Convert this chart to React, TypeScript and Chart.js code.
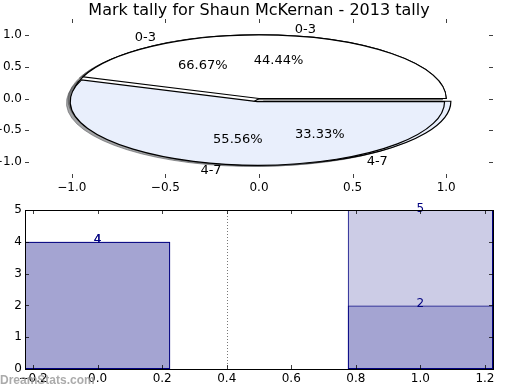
import React, { useEffect, useRef } from 'react';
import { Chart, registerables } from 'chart.js';

Chart.register(...registerables);

// ---------- data ----------
const TITLE = 'Mark tally for Shaun McKernan - 2013 tally';
const binLabels = ['0-3', '4-7'];
const binPositions = [0, 1];
const seriesA = [4, 5]; // light bars, pie drawn on top (44.44% / 55.56%)
const seriesB = [4, 2]; // overlapping bars, pie underneath (66.67% / 33.33%)
const pieXTicks = [-1.0, -0.5, 0.0, 0.5, 1.0];
const pieYTicks = [-1.0, -0.5, 0.0, 0.5, 1.0];
const barXTicks = [-0.2, 0.0, 0.2, 0.4, 0.6, 0.8, 1.0, 1.2];
const barYTicks = [0, 1, 2, 3, 4, 5];
const dividerX = 0.4;
const WATERMARK = 'DreamStats.com';

// ---------- style ----------
const FONT = '"DejaVu Sans", sans-serif';
const pieColors = ['#ffffff', '#e9effc'];
const pieExplode = [0, 0.05];
const pieOrder = [seriesB, seriesA];
const BAR_WIDTH = 0.45;
const X_TICK_STEP = 0.2;
const NAVY = '#000080';

const fmt1 = (v: number) => v.toFixed(1).replace('-', '\u2212');

function shadowOf(hex: string) {
  const r = parseInt(hex.slice(1, 3), 16) * 0.3;
  const g = parseInt(hex.slice(3, 5), 16) * 0.3;
  const b = parseInt(hex.slice(5, 7), 16) * 0.3;
  return `rgba(${r},${g},${b},0.5)`;
}

const insideTicks = {
  id: 'insideTicks',
  afterDraw(chart: any) {
    const { ctx, chartArea: a, scales } = chart;
    const L = 4;
    ctx.save();
    ctx.strokeStyle = 'rgba(0,0,0,0.75)';
    ctx.lineWidth = 1;
    ctx.beginPath();
    for (const t of scales.x.ticks) {
      const p = Math.round(scales.x.getPixelForValue(t.value)) + 0.5;
      ctx.moveTo(p, a.top); ctx.lineTo(p, a.top + L);
      ctx.moveTo(p, a.bottom); ctx.lineTo(p, a.bottom - L);
    }
    for (const t of scales.y.ticks) {
      const p = Math.round(scales.y.getPixelForValue(t.value)) + 0.5;
      ctx.moveTo(a.left, p); ctx.lineTo(a.left + L, p);
      ctx.moveTo(a.right, p); ctx.lineTo(a.right - L, p);
    }
    ctx.stroke();
    ctx.restore();
  },
};

const piePlugin = {
  id: 'ellipsePies',
  afterDatasetsDraw(chart: any) {
    const { ctx, scales } = chart;
    const x = scales.x, y = scales.y;
    const cx0 = x.getPixelForValue(0), cy0 = y.getPixelForValue(0);
    const rx = x.getPixelForValue(1) - cx0;
    const ry = cy0 - y.getPixelForValue(1);
    const wedges: any[] = [];
    for (const values of pieOrder) {
      const total = values.reduce((s, v) => s + v, 0);
      let start = 0;
      values.forEach((v, i) => {
        const frac = v / total;
        const t1 = start, t2 = start + frac * 2 * Math.PI;
        start = t2;
        const mid = (t1 + t2) / 2;
        const ex = pieExplode[i];
        wedges.push({
          ox: ex * Math.cos(mid), oy: ex * Math.sin(mid),
          t1, t2, mid, frac, color: pieColors[i], label: binLabels[i],
        });
      });
    }
    const path = (w: any, dx: number, dy: number) => {
      const cx = x.getPixelForValue(w.ox + dx), cy = y.getPixelForValue(w.oy + dy);
      ctx.beginPath();
      ctx.moveTo(cx, cy);
      ctx.ellipse(cx, cy, rx, ry, 0, -w.t1, -w.t2, true);
      ctx.closePath();
    };
    ctx.save();
    for (const w of wedges) {
      path(w, -0.02, -0.02);
      ctx.fillStyle = shadowOf(w.color);
      ctx.strokeStyle = shadowOf(w.color);
      ctx.lineWidth = 1;
      ctx.fill();
      ctx.stroke();
    }
    for (const w of wedges) {
      path(w, 0, 0);
      ctx.fillStyle = w.color;
      ctx.strokeStyle = '#000';
      ctx.lineWidth = 1.2;
      ctx.fill();
      ctx.stroke();
    }
    ctx.fillStyle = '#000';
    ctx.font = `13px ${FONT}`;
    ctx.textBaseline = 'middle';
    for (const w of wedges) {
      const lx = w.ox + 1.1 * Math.cos(w.mid);
      const ly = w.oy + 1.1 * Math.sin(w.mid);
      ctx.textAlign = lx > 0 ? 'left' : 'right';
      ctx.fillText(w.label, x.getPixelForValue(lx), y.getPixelForValue(ly));
      const px = w.ox + 0.6 * Math.cos(w.mid);
      const py = w.oy + 0.6 * Math.sin(w.mid);
      ctx.textAlign = 'center';
      ctx.fillText((w.frac * 100).toFixed(2) + '%', x.getPixelForValue(px), y.getPixelForValue(py));
    }
    ctx.restore();
  },
};

const titlePlugin = {
  id: 'mplTitle',
  afterDraw(chart: any) {
    const { ctx, chartArea: a } = chart;
    ctx.save();
    ctx.font = `16px ${FONT}`;
    ctx.fillStyle = '#000';
    ctx.textAlign = 'center';
    ctx.textBaseline = 'alphabetic';
    ctx.fillText(TITLE, (a.left + a.right) / 2, 15);
    ctx.restore();
  },
};

const barDecor = {
  id: 'barDecor',
  beforeDatasetsDraw(chart: any) {
    const { ctx, chartArea: a, scales } = chart;
    const px = Math.round(scales.x.getPixelForValue(dividerX)) + 0.5;
    ctx.save();
    ctx.strokeStyle = '#777';
    ctx.lineWidth = 1;
    ctx.setLineDash([1, 2]);
    ctx.beginPath();
    ctx.moveTo(px, a.top);
    ctx.lineTo(px, a.bottom);
    ctx.stroke();
    ctx.restore();
  },
  afterDatasetsDraw(chart: any) {
    const { ctx, scales } = chart;
    ctx.save();
    ctx.font = `12px ${FONT}`;
    ctx.fillStyle = NAVY;
    ctx.textAlign = 'center';
    ctx.textBaseline = 'alphabetic';
    for (const series of [seriesA, seriesB]) {
      series.forEach((v, i) => {
        ctx.fillText(String(v), scales.x.getPixelForValue(binPositions[i]), scales.y.getPixelForValue(v) + 1.5);
      });
    }
    ctx.restore();
  },
  afterDraw(chart: any) {
    const { ctx, chartArea: a } = chart;
    ctx.save();
    ctx.strokeStyle = '#000';
    ctx.lineWidth = 1;
    ctx.strokeRect(Math.round(a.left) + 0.5, Math.round(a.top) + 0.5, Math.round(a.right - a.left), Math.round(a.bottom - a.top));
    ctx.font = 'bold 12px "Liberation Sans", Arial, sans-serif';
    ctx.fillStyle = 'rgba(150,150,150,0.8)';
    ctx.textAlign = 'left';
    ctx.textBaseline = 'alphabetic';
    ctx.fillText(WATERMARK, 0, chart.height - 6);
    ctx.restore();
  },
};

function axis(min: number, max: number, ticks: number[], fmt: (v: number) => string, size: number, horizontal: boolean, pad: number) {
  return {
    type: 'linear',
    min,
    max,
    offset: false,
    grid: { display: false, drawTicks: false },
    border: { display: false },
    afterBuildTicks: (s: any) => { s.ticks = ticks.map((v) => ({ value: v })); },
    afterFit: (s: any) => { if (horizontal) s.height = size; else s.width = size; },
    ticks: {
      padding: pad,
      autoSkip: false,
      maxRotation: 0,
      color: '#000',
      font: { family: FONT, size: 12 },
      callback: (v: any) => fmt(Number(v)),
    },
  };
}

export default function App() {
  const topRef = useRef<HTMLCanvasElement>(null);
  const botRef = useRef<HTMLCanvasElement>(null);

  useEffect(() => {
    const top = new Chart(topRef.current as HTMLCanvasElement, {
      type: 'scatter',
      data: { datasets: [] },
      options: {
        responsive: false,
        animation: false,
        layout: { padding: { top: 19, right: 27, left: 0, bottom: 0 } },
        plugins: { legend: { display: false }, tooltip: { enabled: false }, title: { display: false } },
        scales: {
          x: axis(-1.25, 1.25, pieXTicks, fmt1, 17, true, 3),
          y: axis(-1.25, 1.25, pieYTicks, fmt1, 25, false, 3),
        },
      } as any,
      plugins: [piePlugin, insideTicks, titlePlugin],
    });

    const bot = new Chart(botRef.current as HTMLCanvasElement, {
      type: 'bar',
      data: {
        datasets: [seriesA, seriesB].map((series, k) => ({
          label: 'series' + k,
          data: binPositions.map((p, i) => ({ x: p, y: series[i] })),
          backgroundColor: 'rgba(0,0,128,0.2)',
          borderColor: NAVY,
          borderWidth: 1,
          borderSkipped: false,
          grouped: false,
          categoryPercentage: 1,
          barPercentage: BAR_WIDTH / X_TICK_STEP,
        })),
      },
      options: {
        responsive: false,
        animation: false,
        layout: { padding: { top: 15, right: 27, left: 0, bottom: 0 } },
        plugins: { legend: { display: false }, tooltip: { enabled: false }, title: { display: false } },
        scales: {
          x: axis(-BAR_WIDTH / 2, binPositions[binPositions.length - 1] + BAR_WIDTH / 2, barXTicks, fmt1, 21, true, 3),
          y: axis(0, 5, barYTicks, (v) => String(v), 25, false, 3),
        },
      } as any,
      plugins: [barDecor, insideTicks],
    });

    return () => {
      top.destroy();
      bot.destroy();
    };
  }, []);

  return (
    <div style={{ position: 'absolute', left: 0, top: 0, width: 520, height: 390, background: '#fff' }}>
      <canvas ref={topRef} width={520} height={195} style={{ display: 'block', width: 520, height: 195 }} />
      <canvas ref={botRef} width={520} height={195} style={{ display: 'block', width: 520, height: 195 }} />
    </div>
  );
}
